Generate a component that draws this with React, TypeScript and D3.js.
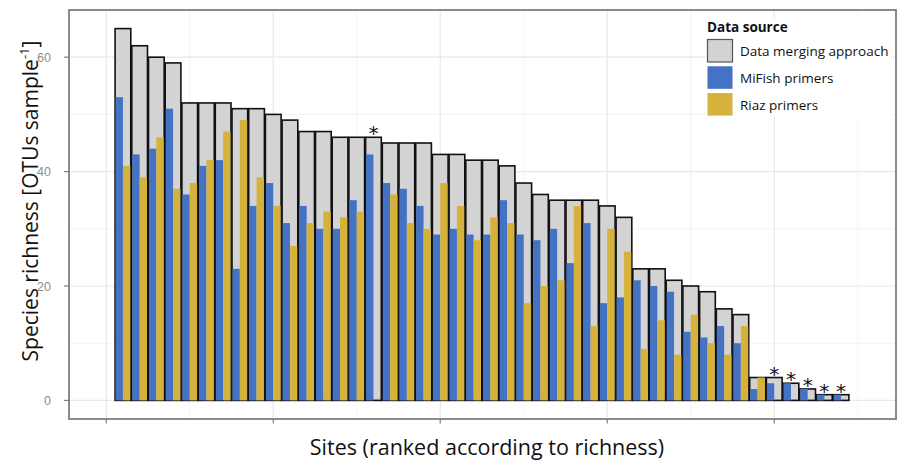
import React from "react";
import * as d3 from "d3";

const merged = [65,62,60,59,52,52,52,51,51,50,49,47,47,46,46,46,45,45,45,43,43,42,42,41,38,36,35,35,35,34,32,23,23,21,20,19,16,15,4,4,3,2,1,1];
const mifish = [53,43,44,51,36,41,42,23,34,38,31,34,30,30,35,43,38,37,34,29,30,29,29,35,29,28,30,24,31,17,18,21,20,19,12,11,13,10,2,3,3,2,1,1];
const riaz = [41,39,46,37,38,42,47,49,39,34,27,31,33,32,33,0,36,31,30,38,34,28,32,31,17,20,21,34,13,30,26,9,14,8,15,10,8,13,4,0,0,0,0,0];
const starred = [16,40,41,42,43,44];
const yTicks = [0,20,40,60];
const yMinor = [10,30,50];
const xTicks = [0,10,20,30,40];
const xMinor = [5,15,25,35,45];
const legendItems = [
  { label: "Data merging approach", color: "#d3d3d3", stroke: "#555" },
  { label: "MiFish primers", color: "#4472c4", stroke: "none" },
  { label: "Riaz primers", color: "#d4b23c", stroke: "none" },
];

const W = 901, H = 462;
const L = 69, R = 896, T = 10, B = 419;

export default function App() {
  const x = d3.scaleLinear().domain([-2.23, 47.29]).range([L, R]);
  const y = d3.scaleLinear().domain([-3.25, 68.25]).range([B, T]);
  const unit = x(1) - x(0);
  const gw = unit * 0.94;
  const hw = unit * 0.44;
  const font = "'Open Sans', sans-serif";
  return (
    <svg width={W} height={H} style={{ position: "absolute", left: 0, top: 0, background: "#fff" }}>
      <rect x={0} y={0} width={W} height={H} fill="#fff" />
      {yMinor.map((v) => (
        <line key={"ym" + v} x1={L} x2={R} y1={y(v)} y2={y(v)} stroke="#f3f3f3" strokeWidth={1} />
      ))}
      {xMinor.map((v) => (
        <line key={"xm" + v} x1={x(v)} x2={x(v)} y1={T} y2={B} stroke="#f3f3f3" strokeWidth={1} />
      ))}
      {yTicks.map((v) => (
        <line key={"yg" + v} x1={L} x2={R} y1={y(v)} y2={y(v)} stroke="#e8e8e8" strokeWidth={1.2} />
      ))}
      {xTicks.map((v) => (
        <line key={"xg" + v} x1={x(v)} x2={x(v)} y1={T} y2={B} stroke="#e8e8e8" strokeWidth={1.2} />
      ))}
      {merged.map((v, i) => {
        const c = x(i + 1);
        return (
          <g key={"b" + i}>
            <rect x={c - gw / 2} y={y(v)} width={gw} height={y(0) - y(v)} fill="#d3d3d3" stroke="#111" strokeWidth={1.6} />
            {mifish[i] > 0 && (
              <rect x={c - hw} y={y(mifish[i])} width={hw} height={y(0) - y(mifish[i])} fill="#4472c4" />
            )}
            {riaz[i] > 0 && (
              <rect x={c} y={y(riaz[i])} width={hw} height={y(0) - y(riaz[i])} fill="#d4b23c" />
            )}
          </g>
        );
      })}
      {starred.map((r) => (
        <text key={"s" + r} x={x(r)} y={y(merged[r - 1]) + 3} textAnchor="middle" fontFamily="'DejaVu Sans', sans-serif" fontSize={20} fill="#111">*</text>
      ))}
      <rect x={705} y={19} width={186} height={98} fill="#fff" />
      <text x={707} y={32} fontFamily={font} fontWeight="bold" fontSize={13.5} fill="#111">Data source</text>
      {legendItems.map((it, i) => (
        <g key={"l" + i}>
          <rect x={707.5} y={39.5 + i * 26.8} width={25} height={22.5} fill={it.color} stroke={it.stroke} strokeWidth={it.stroke === "none" ? 0 : 1.2} />
          <text x={740} y={56 + i * 26.8} fontFamily={font} fontSize={13.5} fill="#111">{it.label}</text>
        </g>
      ))}
      <rect x={L} y={T} width={R - L} height={B - T} fill="none" stroke="#7f7f7f" strokeWidth={1.8} />
      {yTicks.map((v) => (
        <g key={"yt" + v}>
          <line x1={L - 5} x2={L} y1={y(v)} y2={y(v)} stroke="#7f7f7f" strokeWidth={1.2} />
          <text x={L - 18} y={y(v) + 4.5} textAnchor="end" fontFamily="'Liberation Sans', Arial, sans-serif" fontSize={12.5} fill="#8c8c8c">{v}</text>
        </g>
      ))}
      {xTicks.map((v) => (
        <line key={"xt" + v} x1={x(v)} x2={x(v)} y1={B} y2={B + 4.5} stroke="#7f7f7f" strokeWidth={1.2} />
      ))}
      <text x={487} y={455} textAnchor="middle" fontFamily={font} fontSize={21.5} fill="#111">Sites (ranked according to richness)</text>
      <text transform={`translate(38,201) rotate(-90)`} textAnchor="middle" fontFamily={font} fontSize={21} fill="#111">
        Species richness [OTUs sample<tspan fontSize={13} dy={-9}>-1</tspan><tspan dy={9}>]</tspan>
      </text>
    </svg>
  );
}
